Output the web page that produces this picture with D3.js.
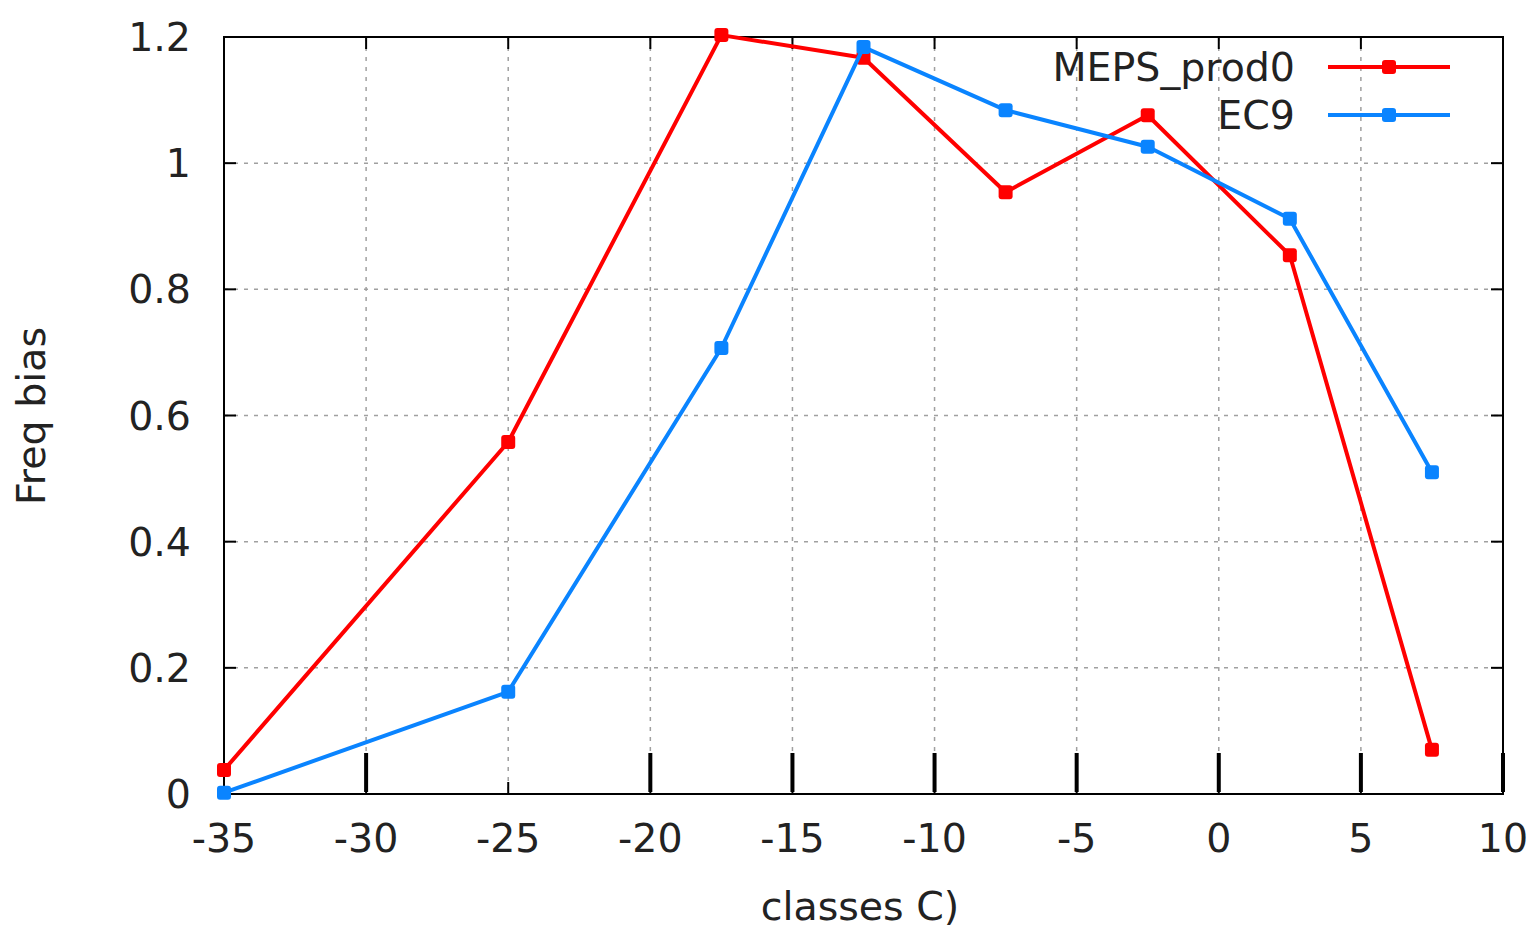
<!DOCTYPE html>
<html>
<head>
<meta charset="utf-8">
<script src="https://cdn.jsdelivr.net/npm/d3@7"></script>
<style>
  body { margin: 0; background: #fff; }
  text { font-family: "DejaVu Sans", sans-serif; fill: #222; }
</style>
</head>
<body>
<div id="chart"></div>
<script>
// classes (x) and frequency bias values
const classes = [-35, -25, -17.5, -12.5, -7.5, -2.5, 2.5, 7.5];
const mepsProd0 = [0.038, 0.558, 1.203, 1.167, 0.954, 1.076, 0.854, 0.070];
const ec9 = [0.002, 0.162, 0.707, 1.184, 1.084, 1.026, 0.912, 0.510];

const xTicks = [-35, -30, -25, -20, -15, -10, -5, 0, 5, 10];
const yTicks = [0, 0.2, 0.4, 0.6, 0.8, 1, 1.2];
// odd long marks along the bottom axis
const longMarks = [-30, -20, -15, -10, -5, 0, 5, 10];

const series = [
    { name: "MEPS_prod0", values: mepsProd0, color: "#ff0000" },
    { name: "EC9", values: ec9, color: "#0a84ff" }
];

const width = 1535, height = 928;
const margin = { top: 37, right: 32, bottom: 134, left: 224 };
const fontSize = "39.5px";

const svg = d3.select("#chart").append("svg")
    .attr("width", width)
    .attr("height", height);

const x = d3.scaleLinear().domain([-35, 10]).range([margin.left, width - margin.right]);
const y = d3.scaleLinear().domain([0, 1.2]).range([height - margin.bottom, margin.top]);

const x0 = x.range()[0], x1 = x.range()[1];
const y0 = y.range()[0], y1 = y.range()[1];

// grid
const grid = svg.append("g")
    .style("stroke", "#a0a0a0")
    .style("stroke-width", 1.5)
    .style("stroke-dasharray", "4,6");

grid.selectAll("line.v")
    .data(xTicks.filter(d => d > -35 && d < 10))
    .join("line")
    .attr("class", "v")
    .attr("x1", d => x(d)).attr("x2", d => x(d))
    .attr("y1", y1).attr("y2", y0);

grid.selectAll("line.h")
    .data(yTicks.filter(d => d > 0 && d < 1.2))
    .join("line")
    .attr("class", "h")
    .attr("x1", x0).attr("x2", x1)
    .attr("y1", d => y(d)).attr("y2", d => y(d));

// tick marks (mirrored)
const ticks = svg.append("g").style("stroke", "#000").style("stroke-width", 2);
const tl = 12;
xTicks.forEach(d => {
    ticks.append("line").attr("x1", x(d)).attr("x2", x(d)).attr("y1", y0).attr("y2", y0 - tl);
    ticks.append("line").attr("x1", x(d)).attr("x2", x(d)).attr("y1", y1).attr("y2", y1 + tl);
});
yTicks.forEach(d => {
    ticks.append("line").attr("x1", x0).attr("x2", x0 + tl).attr("y1", y(d)).attr("y2", y(d));
    ticks.append("line").attr("x1", x1).attr("x2", x1 - tl).attr("y1", y(d)).attr("y2", y(d));
});

svg.append("g")
    .selectAll("line")
    .data(longMarks)
    .join("line")
    .attr("x1", d => x(d)).attr("x2", d => x(d))
    .attr("y1", y0 - 41).attr("y2", y0 - 2)
    .style("stroke", "#000")
    .style("stroke-width", 4);

// frame
svg.append("rect")
    .attr("x", x0).attr("y", y1)
    .attr("width", x1 - x0).attr("height", y0 - y1)
    .style("fill", "none")
    .style("stroke", "#000")
    .style("stroke-width", 2);

// tick labels
svg.append("g")
    .selectAll("text")
    .data(xTicks)
    .join("text")
    .attr("x", d => x(d))
    .attr("y", 852)
    .attr("text-anchor", "middle")
    .style("font-size", fontSize)
    .text(d => d);

svg.append("g")
    .selectAll("text")
    .data(yTicks)
    .join("text")
    .attr("x", 191)
    .attr("y", d => y(d) + 14)
    .attr("text-anchor", "end")
    .style("font-size", fontSize)
    .text(d => d);

// axis titles
svg.append("text")
    .attr("x", 860)
    .attr("y", 920)
    .attr("text-anchor", "middle")
    .style("font-size", fontSize)
    .text("classes C)");

svg.append("text")
    .attr("transform", "translate(45,416) rotate(-90)")
    .attr("text-anchor", "middle")
    .style("font-size", fontSize)
    .text("Freq bias");

// series
const line = d3.line().x(d => x(d[0])).y(d => y(d[1]));
const ms = 14;

series.forEach(s => {
    const pts = classes.map((c, i) => [c, s.values[i]]);
    svg.append("path")
        .datum(pts)
        .attr("d", line)
        .style("fill", "none")
        .style("stroke", s.color)
        .style("stroke-width", 4)
        .style("stroke-linejoin", "round");
    svg.append("g")
        .selectAll("rect")
        .data(pts)
        .join("rect")
        .attr("x", d => x(d[0]) - ms / 2)
        .attr("y", d => y(d[1]) - ms / 2)
        .attr("width", ms).attr("height", ms)
        .attr("rx", 3)
        .style("fill", s.color);
});

// legend
const legend = svg.append("g");
series.forEach((s, i) => {
    const ly = 67 + i * 48;
    legend.append("text")
        .attr("x", 1295)
        .attr("y", ly + 14)
        .attr("text-anchor", "end")
        .style("font-size", fontSize)
        .text(s.name);
    legend.append("line")
        .attr("x1", 1328).attr("x2", 1450)
        .attr("y1", ly).attr("y2", ly)
        .style("stroke", s.color)
        .style("stroke-width", 4);
    legend.append("rect")
        .attr("x", 1389 - ms / 2).attr("y", ly - ms / 2)
        .attr("width", ms).attr("height", ms)
        .attr("rx", 3)
        .style("fill", s.color);
});
</script>
</body>
</html>
